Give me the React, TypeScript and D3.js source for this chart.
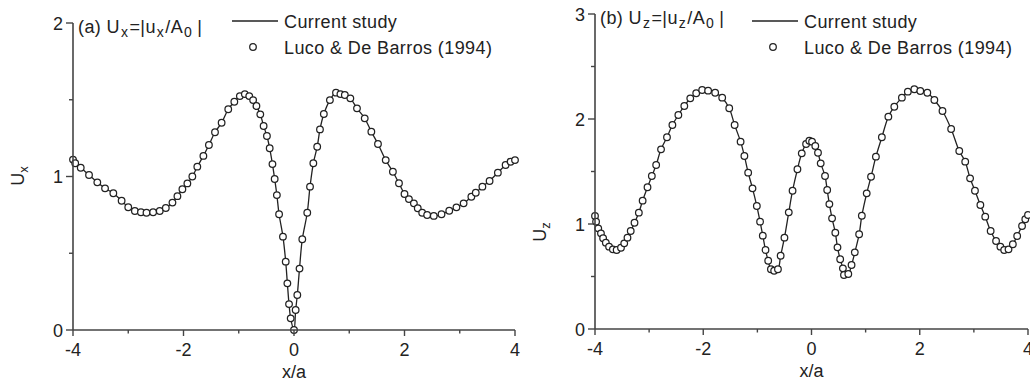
import React from "react";
import * as d3 from "d3";

// Panel (a): horizontal displacement amplitude
const uxX = [-4.0, -3.96, -3.86, -3.71, -3.56, -3.42, -3.27, -3.12, -3.0, -2.88, -2.77, -2.67, -2.55, -2.43, -2.32, -2.2, -2.11, -2.02, -1.93, -1.84, -1.75, -1.64, -1.54, -1.43, -1.31, -1.19, -1.08, -0.98, -0.89, -0.81, -0.74, -0.68, -0.61, -0.55, -0.49, -0.44, -0.39, -0.35, -0.31, -0.27, -0.2, -0.15, -0.12, -0.09, -0.06, 0.0, 0.03, 0.06, 0.1, 0.15, 0.24, 0.29, 0.35, 0.42, 0.47, 0.54, 0.65, 0.76, 0.84, 0.92, 1.02, 1.14, 1.28, 1.4, 1.52, 1.66, 1.79, 1.9, 2.0, 2.08, 2.17, 2.24, 2.32, 2.41, 2.53, 2.67, 2.81, 2.94, 3.07, 3.21, 3.29, 3.41, 3.54, 3.69, 3.83, 3.92, 4.0];
const uxY = [1.11, 1.086, 1.057, 1.01, 0.962, 0.923, 0.891, 0.842, 0.8, 0.775, 0.767, 0.764, 0.767, 0.775, 0.795, 0.83, 0.872, 0.917, 0.955, 1.0, 1.064, 1.134, 1.205, 1.288, 1.35, 1.438, 1.487, 1.524, 1.537, 1.524, 1.498, 1.459, 1.405, 1.329, 1.264, 1.184, 1.081, 0.984, 0.879, 0.754, 0.608, 0.445, 0.304, 0.169, 0.076, 0.0, 0.13, 0.228, 0.4, 0.591, 0.764, 0.934, 1.086, 1.194, 1.307, 1.407, 1.498, 1.546, 1.537, 1.531, 1.509, 1.444, 1.379, 1.292, 1.212, 1.107, 1.031, 0.956, 0.886, 0.853, 0.825, 0.793, 0.764, 0.749, 0.743, 0.754, 0.777, 0.799, 0.825, 0.868, 0.894, 0.934, 0.971, 1.025, 1.075, 1.096, 1.107];

// Panel (b): vertical displacement amplitude
const uzX = [-4.0, -3.98, -3.94, -3.89, -3.85, -3.8, -3.74, -3.67, -3.6, -3.52, -3.46, -3.4, -3.34, -3.27, -3.19, -3.12, -3.03, -2.95, -2.87, -2.78, -2.67, -2.57, -2.46, -2.35, -2.24, -2.13, -2.02, -1.91, -1.78, -1.65, -1.52, -1.42, -1.31, -1.24, -1.17, -1.09, -1.01, -0.95, -0.9, -0.85, -0.8, -0.75, -0.69, -0.62, -0.57, -0.5, -0.42, -0.35, -0.26, -0.18, -0.1, -0.04, 0.01, 0.07, 0.12, 0.17, 0.25, 0.29, 0.33, 0.38, 0.44, 0.48, 0.53, 0.58, 0.6, 0.68, 0.74, 0.8, 0.88, 0.93, 1.02, 1.1, 1.19, 1.3, 1.42, 1.53, 1.67, 1.78, 1.9, 2.01, 2.14, 2.27, 2.42, 2.58, 2.73, 2.84, 2.93, 3.02, 3.12, 3.21, 3.31, 3.41, 3.49, 3.56, 3.64, 3.72, 3.8, 3.89, 3.95, 4.0];
const uzY = [1.076, 1.022, 0.959, 0.911, 0.864, 0.822, 0.784, 0.759, 0.752, 0.774, 0.816, 0.87, 0.933, 1.012, 1.108, 1.222, 1.35, 1.457, 1.562, 1.711, 1.826, 1.943, 2.038, 2.124, 2.197, 2.245, 2.276, 2.27, 2.25, 2.203, 2.102, 1.943, 1.784, 1.648, 1.489, 1.34, 1.171, 1.022, 0.889, 0.752, 0.65, 0.569, 0.555, 0.569, 0.698, 0.87, 1.111, 1.317, 1.521, 1.673, 1.762, 1.793, 1.784, 1.743, 1.679, 1.578, 1.457, 1.324, 1.19, 1.054, 0.917, 0.778, 0.664, 0.578, 0.514, 0.524, 0.61, 0.73, 0.902, 1.079, 1.292, 1.45, 1.641, 1.826, 2.022, 2.117, 2.203, 2.26, 2.283, 2.267, 2.25, 2.181, 2.076, 1.905, 1.695, 1.594, 1.435, 1.317, 1.181, 1.07, 0.933, 0.838, 0.784, 0.752, 0.759, 0.807, 0.886, 0.981, 1.045, 1.086];

const xTicks = [-4, -2, 0, 2, 4];
const xMinor = [-3, -1, 1, 3];
const uxTicks = [0, 1, 2];
const uxMinor = [0.5, 1.5];
const uzTicks = [0, 1, 2, 3];
const uzMinor = [0.5, 1.5, 2.5];
const legendLine = "Current study";
const legendRef = "Luco & De Barros (1994)";
const xTitle = "x/a";

const FONT = "'Liberation Sans', Arial, Helvetica, sans-serif";
const INK = "#222";
const AXIS = "#444";

type PanelProps = {
  left: number;
  right: number;
  top: number;
  bottom: number;
  yMax: number;
  xs: number[];
  ys: number[];
  yTicks: number[];
  yMinor: number[];
  tag: string;
  comp: string;
  yLabelX: number;
  yLabelY: number;
  legendX: number;
};

function Panel(p: PanelProps) {
  const x = d3.scaleLinear().domain([-4, 4]).range([p.left, p.right]);
  const y = d3.scaleLinear().domain([0, p.yMax]).range([p.bottom, p.top]);
  const pts = p.xs.map((v, i) => [v, p.ys[i]] as [number, number]);
  const path = d3
    .line<[number, number]>()
    .x((d) => x(d[0]))
    .y((d) => y(d[1]))
    .curve(d3.curveCatmullRom.alpha(0.5))(pts) as string;

  const y0 = y(0);
  const x0 = x(-4);
  return (
    <g fontFamily={FONT} fill={INK}>
      {/* curve */}
      <path d={path} fill="none" stroke={INK} strokeWidth={1.3} />
      {pts.map((d, i) => (
        <circle key={i} cx={x(d[0])} cy={y(d[1])} r={3.3} fill="#fff" stroke={INK} strokeWidth={1.25} />
      ))}

      {/* axes */}
      <line x1={x0} x2={x(4)} y1={y0} y2={y0} stroke={AXIS} strokeWidth={1.6} />
      <line x1={x0} x2={x0} y1={y0} y2={y(p.yMax)} stroke={AXIS} strokeWidth={1.6} />
      {xTicks.map((t) => (
        <g key={"xt" + t}>
          <line x1={x(t)} x2={x(t)} y1={y0} y2={y0 + 6} stroke={AXIS} strokeWidth={1.4} />
          <text x={x(t)} y={y0 + 26} textAnchor="middle" fontSize={18}>
            {t}
          </text>
        </g>
      ))}
      {xMinor.map((t) => (
        <line key={"xm" + t} x1={x(t)} x2={x(t)} y1={y0} y2={y0 + 3.5} stroke={AXIS} strokeWidth={1.4} />
      ))}
      {p.yTicks.map((t) => (
        <g key={"yt" + t}>
          <line x1={x0 - 7} x2={x0} y1={y(t)} y2={y(t)} stroke={AXIS} strokeWidth={1.4} />
          <text x={x0 - 10} y={y(t) + 6.5} textAnchor="end" fontSize={18}>
            {t}
          </text>
        </g>
      ))}
      {p.yMinor.map((t) => (
        <line key={"ym" + t} x1={x0 - 4} x2={x0} y1={y(t)} y2={y(t)} stroke={AXIS} strokeWidth={1.4} />
      ))}

      {/* axis titles */}
      <text x={(x0 + x(4)) / 2} y={y0 + 48} textAnchor="middle" fontSize={18}>
        {xTitle}
      </text>
      <text transform={`translate(${p.yLabelX},${p.yLabelY}) rotate(-90)`} textAnchor="middle" fontSize={18}>
        U<tspan fontSize={13} dy={4}>{p.comp}</tspan>
      </text>

      {/* panel title */}
      <text x={x0 + 5} y={y(p.yMax) + 10} fontSize={18} letterSpacing={0.4}>
        ({p.tag}) U<tspan fontSize={14} dy={4} dx={1}>{p.comp}</tspan>
        <tspan dy={-4} dx={1}>=|u</tspan>
        <tspan fontSize={14} dy={4} dx={1}>{p.comp}</tspan>
        <tspan dy={-4} dx={1}>/A</tspan>
        <tspan fontSize={14} dy={4} dx={1}>0</tspan>
        <tspan dy={-4} dx={5}>|</tspan>
      </text>

      {/* legend */}
      <line x1={p.legendX} x2={p.legendX + 46} y1={21} y2={21} stroke={INK} strokeWidth={1.3} />
      <text x={p.legendX + 52} y={28} fontSize={18} letterSpacing={0.4}>
        {legendLine}
      </text>
      <circle cx={p.legendX + 21} cy={47} r={3.3} fill="#fff" stroke={INK} strokeWidth={1.25} />
      <text x={p.legendX + 52} y={54} fontSize={18} letterSpacing={0.4}>
        {legendRef}
      </text>
    </g>
  );
}

export default function App() {
  return (
    <svg
      width={1030}
      height={382}
      viewBox="0 0 1030 382"
      style={{ position: "absolute", left: 0, top: 0, background: "#fff" }}
    >
      <rect width={1030} height={382} fill="#fff" />
      <Panel
        left={73}
        right={515}
        top={23}
        bottom={330}
        yMax={2}
        xs={uxX}
        ys={uxY}
        yTicks={uxTicks}
        yMinor={uxMinor}
        tag="a"
        comp="x"
        yLabelX={24}
        yLabelY={176}
        legendX={232}
      />
      <Panel
        left={595}
        right={1028}
        top={14}
        bottom={329}
        yMax={3}
        xs={uzX}
        ys={uzY}
        yTicks={uzTicks}
        yMinor={uzMinor}
        tag="b"
        comp="z"
        yLabelX={546}
        yLabelY={232}
        legendX={752}
      />
    </svg>
  );
}
